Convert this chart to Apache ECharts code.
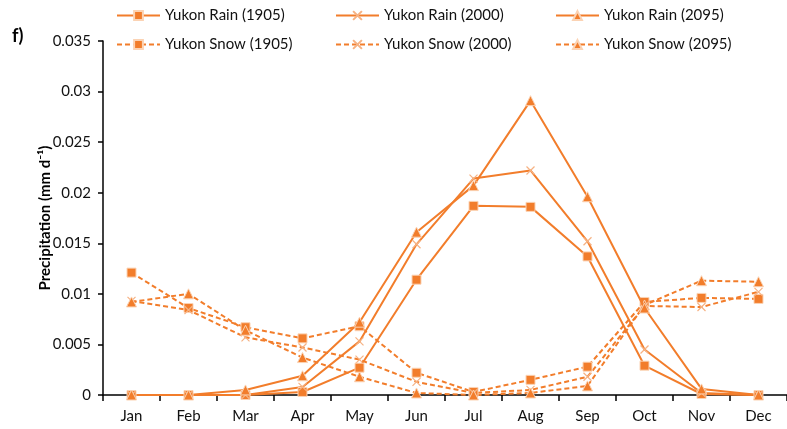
<!DOCTYPE html>
<html>
<head>
<meta charset="utf-8">
<script src="https://cdn.jsdelivr.net/npm/echarts@6/dist/echarts.min.js"></script>
<style>
  html, body { margin: 0; padding: 0; background: #fff; }
  #chart { width: 787px; height: 429px; }
</style>
</head>
<body>
<div id="chart"></div>
<script>
// Monthly precipitation over the Yukon basin (mm per day)
const months = ['Jan', 'Feb', 'Mar', 'Apr', 'May', 'Jun', 'Jul', 'Aug', 'Sep', 'Oct', 'Nov', 'Dec'];

const rain1905 = [0, 0, 0, 0.0003, 0.0027, 0.0114, 0.0187, 0.0186, 0.0137, 0.0029, 0.0001, 0];
const rain2000 = [0, 0, 0, 0.0008, 0.0053, 0.0149, 0.0214, 0.0222, 0.0152, 0.0045, 0.0002, 0];
const rain2095 = [0, 0, 0.0005, 0.0019, 0.0072, 0.0161, 0.0207, 0.0291, 0.0196, 0.0086, 0.0006, 0];

const snow1905 = [0.0121, 0.0086, 0.0067, 0.0056, 0.0068, 0.0022, 0.0003, 0.0015, 0.0028, 0.0092, 0.0096, 0.0095];
const snow2000 = [0.0093, 0.0084, 0.0057, 0.0047, 0.0035, 0.0013, 0.0002, 0.0005, 0.0018, 0.0088, 0.0087, 0.0102];
const snow2095 = [0.0092, 0.0100, 0.0064, 0.0037, 0.0018, 0.0002, 0, 0.0002, 0.0009, 0.0089, 0.0113, 0.0112];

const yTicks = [0, 0.005, 0.01, 0.015, 0.02, 0.025, 0.03, 0.035];

const ORANGE = '#F27D2B';
const FONT = 'Lato, "Open Sans", sans-serif';
const CROSS = 'path://M0,0 L10,10 M10,0 L0,10';

function makeSeries(name, data, dashed, symbol) {
  const isCross = symbol === 'cross';
  return {
    name: name,
    type: 'line',
    data: data,
    symbol: isCross ? CROSS : symbol,
    symbolSize: symbol === 'triangle' ? 10 : (isCross ? 8 : 9),
    showAllSymbol: true,
    lineStyle: { color: ORANGE, width: 2, type: dashed ? [5, 3] : 'solid' },
    itemStyle: isCross
      ? { color: 'none', borderColor: '#F6B283', borderWidth: 1.2 }
      : { color: ORANGE, borderColor: '#FBD3B4', borderWidth: 1 },
    emphasis: { disabled: true },
    animation: false,
    z: dashed ? 2 : 3
  };
}

const series = [
  makeSeries('Yukon Rain (1905)', rain1905, false, 'rect'),
  makeSeries('Yukon Rain (2000)', rain2000, false, 'cross'),
  makeSeries('Yukon Rain (2095)', rain2095, false, 'triangle'),
  makeSeries('Yukon Snow (1905)', snow1905, true, 'rect'),
  makeSeries('Yukon Snow (2000)', snow2000, true, 'cross'),
  makeSeries('Yukon Snow (2095)', snow2095, true, 'triangle')
];

// One legend block per entry, laid out in a 3 x 2 table
const legendCols = [116, 335, 555];
const legendRows = [8, 37];
const legends = series.map((s, i) => ({
  data: [s.name],
  left: legendCols[i % 3],
  top: legendRows[Math.floor(i / 3)],
  padding: 0,
  itemWidth: 43,
  itemHeight: 11,
  itemGap: 4,
  textStyle: { fontFamily: FONT, fontSize: 15, color: '#111' },
  selectedMode: false
}));

const chart = echarts.init(document.getElementById('chart'), null, { renderer: 'canvas' });
chart.setOption({
  backgroundColor: '#fff',
  animation: false,
  legend: legends,
  title: {
    text: 'f)',
    left: 12,
    top: 27,
    padding: 0,
    textStyle: { fontFamily: FONT, fontSize: 18, fontWeight: 'bold', color: '#000' }
  },
  grid: { left: 103, right: -2, top: 41, bottom: 34 },
  xAxis: {
    type: 'category',
    data: months,
    boundaryGap: true,
    axisLine: { lineStyle: { color: '#000', width: 1.5 } },
    axisTick: { show: true, interval: 0, length: 6, lineStyle: { color: '#000', width: 1.5 } },
    axisLabel: { fontFamily: FONT, fontSize: 15, color: '#111', margin: 14, interval: 0 },
    splitLine: { show: false }
  },
  yAxis: {
    type: 'value',
    min: yTicks[0],
    max: yTicks[yTicks.length - 1],
    interval: yTicks[1] - yTicks[0],
    name: 'Precipitation (mm d⁻¹)',
    nameLocation: 'middle',
    nameGap: 50,
    nameRotate: 90,
    nameMoveOverlap: false,
    nameTextStyle: { fontFamily: FONT, fontSize: 15, fontWeight: 'bold', color: '#000' },
    axisLine: { show: true, lineStyle: { color: '#000', width: 1.5 } },
    axisTick: { show: true, length: 5, lineStyle: { color: '#000', width: 1.5 } },
    axisLabel: {
      fontFamily: FONT, fontSize: 15, color: '#111', margin: 12,
      formatter: v => String(+v.toFixed(3))
    },
    splitLine: { show: false }
  },
  series: series
});
</script>
</body>
</html>
